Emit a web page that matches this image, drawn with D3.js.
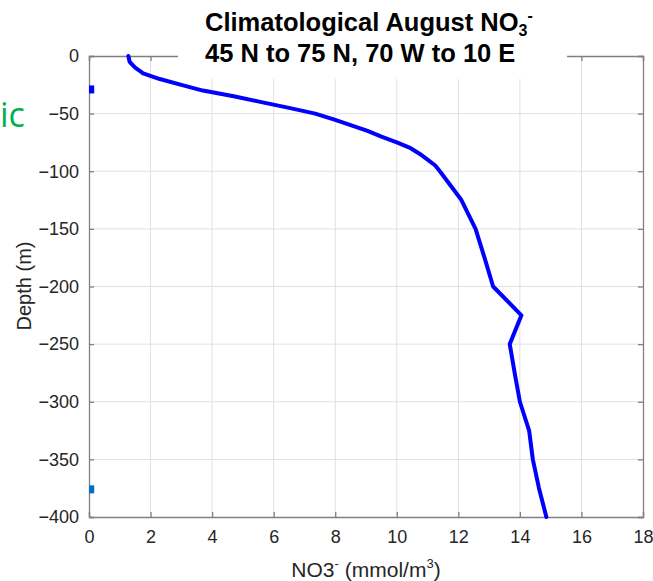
<!DOCTYPE html>
<html><head><meta charset="utf-8">
<script src="https://cdn.jsdelivr.net/npm/d3@7"></script>
<style>body{margin:0;background:#fff}svg{display:block}</style>
</head><body>
<svg id="c" width="653" height="581"></svg>
<script>
// Data
const depths = [0,-5,-10,-15,-20,-25,-30,-35,-40,-45,-50,-55,-60,-65,-70,-75,-80,-85,-90,-95,-100,-125,-150,-175,-200,-225,-250,-275,-300,-325,-350,-375,-400];
const no3    = [1.28,1.32,1.5,1.76,2.3,3.0,3.7,4.7,5.6,6.5,7.35,7.95,8.5,9.05,9.5,10.0,10.45,10.75,11.0,11.25,11.4,12.1,12.56,12.85,13.13,14.05,13.67,13.83,14.0,14.3,14.42,14.62,14.86];
const xTicks = [0,2,4,6,8,10,12,14,16,18];
const yTicks = [0,-50,-100,-150,-200,-250,-300,-350,-400];
const markerDepths = [-29,-376];
const markerColors = ["#0000ff","#0072bd"];

const svg = d3.select("#c");
const x = d3.scaleLinear().domain([0,18]).range([89,643]);
const y = d3.scaleLinear().domain([-400,0]).range([517,56]);
const axisCol = "#808080", textCol = "#262626", gridCol = "#e0e0e0";
const font = "'Liberation Sans', Arial, Helvetica, sans-serif";

// grid
svg.append("g").selectAll("line").data(xTicks.slice(1,-1)).join("line")
  .attr("x1",d=>x(d)).attr("x2",d=>x(d)).attr("y1",y(0)).attr("y2",y(-400))
  .attr("stroke",gridCol).attr("stroke-width",1);
svg.append("g").selectAll("line").data(yTicks.slice(1,-1)).join("line")
  .attr("y1",d=>y(d)).attr("y2",d=>y(d)).attr("x1",x(0)).attr("x2",x(18))
  .attr("stroke",gridCol).attr("stroke-width",1);

// axes
const tick = -5;
const gx = svg.append("g").attr("transform",`translate(0,${y(-400)})`)
  .call(d3.axisBottom(x).tickValues(xTicks).tickSize(tick).tickPadding(10).tickFormat(d3.format("d")));
const gxt = svg.append("g").attr("transform",`translate(0,${y(0)})`)
  .call(d3.axisTop(x).tickValues(xTicks).tickSize(tick).tickFormat(""));
const gy = svg.append("g").attr("transform",`translate(${x(0)},0)`)
  .call(d3.axisLeft(y).tickValues(yTicks).tickSize(tick).tickPadding(10).tickFormat(d3.format("d")));
const gyr = svg.append("g").attr("transform",`translate(${x(18)},0)`)
  .call(d3.axisRight(y).tickValues(yTicks).tickSize(tick).tickFormat(""));
[gx,gxt,gy,gyr].forEach(g=>{
  g.selectAll("path").attr("stroke",axisCol).attr("stroke-width",1.3);
  g.selectAll("line").attr("stroke",axisCol).attr("stroke-width",1.3);
  g.selectAll("text").attr("fill",textCol).style("font-family",font).style("font-size","18px");
});
gx.selectAll("text").attr("dy","0.9em");

// title box covering the top
svg.append("rect").attr("x",178).attr("y",0).attr("width",389).attr("height",79).attr("fill","#fff");

// curve
const line = d3.line().x(d=>x(d[0])).y(d=>y(d[1])).curve(d3.curveLinear);
svg.append("path").datum(no3.map((v,i)=>[v,depths[i]]))
  .attr("d",line).attr("fill","none").attr("stroke","#0000ff")
  .attr("stroke-width",4).attr("stroke-linejoin","round").attr("stroke-linecap","round");

// small markers at left edge
svg.append("g").selectAll("rect").data(markerDepths).join("rect")
  .attr("x",x(0)).attr("y",d=>y(d)-4).attr("width",x(0.17)-x(0)).attr("height",8)
  .attr("fill",(d,i)=>markerColors[i]);

// title
const t = svg.append("text").attr("x",205).attr("y",31).attr("fill","#000")
  .style("font-family",font).style("font-weight","bold").style("font-size","25.5px");
t.append("tspan").text("Climatological August NO");
t.append("tspan").attr("font-size","16px").attr("dy","5").text("3");
t.append("tspan").attr("font-size","16px").attr("dy","-15").text("-");
svg.append("text").attr("x",205).attr("y",62).attr("fill","#000")
  .style("font-family",font).style("font-weight","bold").style("font-size","25.5px")
  .text("45 N to 75 N, 70 W to 10 E");

// axis labels
const xl = svg.append("text").attr("x",366).attr("y",577).attr("text-anchor","middle").attr("fill",textCol)
  .style("font-family",font).style("font-size","21px");
xl.append("tspan").text("NO3");
xl.append("tspan").attr("font-size","13px").attr("dy","-9").text("-");
xl.append("tspan").attr("dy","9").text(" (mmol/m");
xl.append("tspan").attr("font-size","13px").attr("dy","-9").text("3");
xl.append("tspan").attr("dy","9").text(")");

svg.append("text").attr("transform",`translate(31,${286}) rotate(-90)`).attr("text-anchor","middle")
  .attr("fill",textCol).style("font-family",font).style("font-size","20px").text("Depth (m)");

// stray green text at the left edge
svg.append("text").attr("x",0).attr("y",127).attr("fill","#00b050")
  .style("font-family","'Open Sans','Noto Sans',sans-serif").style("font-size","34px").text("ic");
</script>
</body></html>
